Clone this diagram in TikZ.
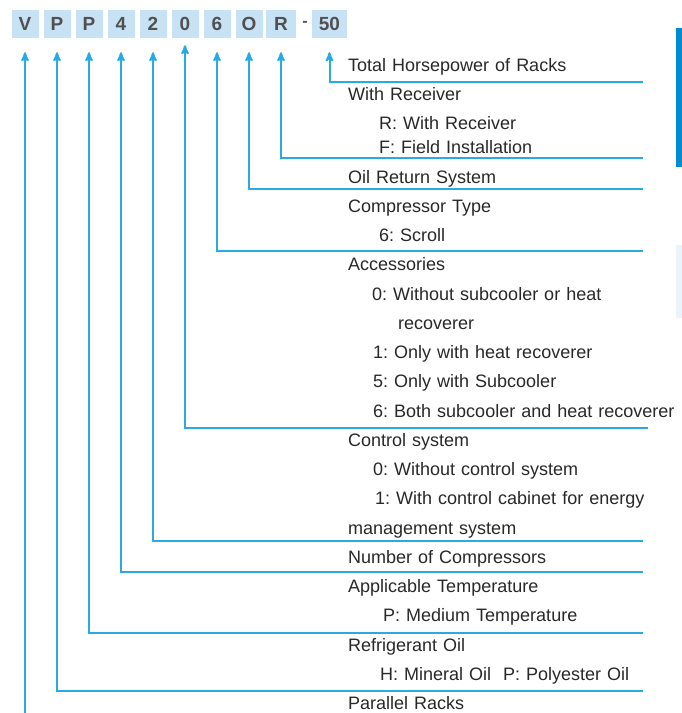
\documentclass[tikz,border=0pt]{standalone}
\usepackage{fontspec}
\setmainfont{Liberation Sans}
\usetikzlibrary{arrows}
\definecolor{linkblue}{RGB}{41,171,226}
\definecolor{boxblue}{RGB}{200,226,245}
\definecolor{codegray}{RGB}{80,80,80}
\definecolor{textgray}{RGB}{40,40,40}
\definecolor{barblue}{RGB}{0,140,210}
\definecolor{paleblue}{RGB}{236,244,251}

\begin{document}
\begin{tikzpicture}[x=1pt,y=-1pt,>=stealth',node distance=29.25pt,
    code node/.style={rectangle,fill=boxblue,text=codegray,node distance=32pt,
      font=\fontsize{19}{19}\selectfont\bfseries,inner sep=0pt,
      minimum height=28pt,minimum width=27pt},
    desc node/.style={rectangle,inner sep=0pt,text width=330pt,align=left,
      text=textgray,font=\fontsize{18}{21}\selectfont\frenchspacing,
      text height=13pt,text depth=3pt},
    elbow/.style={to path={|- (\tikztotarget)}}]
  \useasboundingbox (0,0) rectangle (682,713);

    \node[code node] (PR) at (25,24) {V};
    \node[code node] (RO) [right of=PR] {P};
    \node[code node] (AT) [right of=RO] {P};
    \node[code node] (NC) [right of=AT] {4};
    \node[code node] (CS) [right of=NC] {2};
    \node[code node] (AC) [right of=CS] {0};
    \node[code node] (CT) [right of=AC] {6};
    \node[code node] (OR) [right of=CT] {O};
    \node[code node] (WR) [right of=OR, minimum width=30pt] {R};
    \node (dash) [node distance=24pt, right of=WR, text=codegray,
      font=\fontsize{16}{16}\selectfont\bfseries] {-};
    \node[code node] (HP) [node distance=24.5pt, right of=dash, minimum width=35pt] {50};

    \node[desc node, anchor=west] (HPL) at (348,66) {Total Horsepower of Racks};
    \node[desc node] (WRL) [below of=HPL] {With Receiver};
    \node[desc node] (WRa) [below of=WRL] {\hspace*{31pt}R: With Receiver};
    \node[desc node] (WRb) [node distance=24.3pt, below of=WRa] {\hspace*{31pt}F: Field Installation};
    \node[desc node] (ORL) [below of=WRb] {Oil Return System};
    \node[desc node] (CTL) [below of=ORL] {Compressor Type};
    \node[desc node] (CTa) [below of=CTL] {\hspace*{31pt}6: Scroll};
    \node[desc node] (ACL) [below of=CTa] {Accessories};
    \node[desc node] (ACa) [below of=ACL] {\hspace*{24pt}0: Without subcooler or heat};
    \node[desc node] (ACb) [below of=ACa] {\hspace*{50pt}recoverer};
    \node[desc node] (ACc) [below of=ACb] {\hspace*{25pt}1: Only with heat recoverer};
    \node[desc node] (ACd) [below of=ACc] {\hspace*{25pt}5: Only with Subcooler};
    \node[desc node] (ACe) [below of=ACd] {\hspace*{25pt}6: Both subcooler and heat recoverer};
    \node[desc node] (CSL) [below of=ACe] {Control system};
    \node[desc node] (CSa) [below of=CSL] {\hspace*{25pt}0: Without control system};
    \node[desc node] (CSb) [below of=CSa] {\hspace*{27pt}1: With control cabinet for energy};
    \node[desc node] (CSc) [below of=CSb] {management system};
    \node[desc node] (NCL) [below of=CSc] {Number of Compressors};
    \node[desc node] (ATL) [below of=NCL] {Applicable Temperature};
    \node[desc node] (ATa) [below of=ATL] {\hspace*{35pt}P: Medium Temperature};
    \node[desc node] (ROL) [below of=ATa] {Refrigerant Oil};
    \node[desc node] (ROa) [below of=ROL] {\hspace*{32pt}H: Mineral Oil\ \ P: Polyester Oil};
    \node[desc node] (PRL) [below of=ROa] {Parallel Racks};

    \coordinate (HPE) at (643,82);
    \coordinate (WRE) at (643,158);
    \coordinate (ORE) at (643,189);
    \coordinate (CTE) at (643,251);
    \coordinate (ACE) at (648,428);
    \coordinate (CSE) at (643,541);
    \coordinate (NCE) at (643,572);
    \coordinate (ATE) at (643,633);
    \coordinate (ROE) at (643,691);
    \coordinate (PRE) at (25,713);

    \fill[barblue] (676,28) rectangle (682,167);
    \fill[paleblue] (676,245) rectangle (682,318);

    \path[<-,shorten <=14pt,line width=2pt,every edge/.style={draw=linkblue}]
      (HP) edge[elbow] (HPE)
      (WR) edge[elbow] (WRE)
      (OR) edge[elbow] (ORE)
      (CT) edge[elbow] (CTE)
      (AC) edge[elbow,shorten <=7pt] (ACE)
      (CS) edge[elbow] (CSE)
      (NC) edge[elbow] (NCE)
      (AT) edge[elbow] (ATE)
      (RO) edge[elbow] (ROE)
      (PR) edge (PRE)
      ;
  \end{tikzpicture}
\end{document}
